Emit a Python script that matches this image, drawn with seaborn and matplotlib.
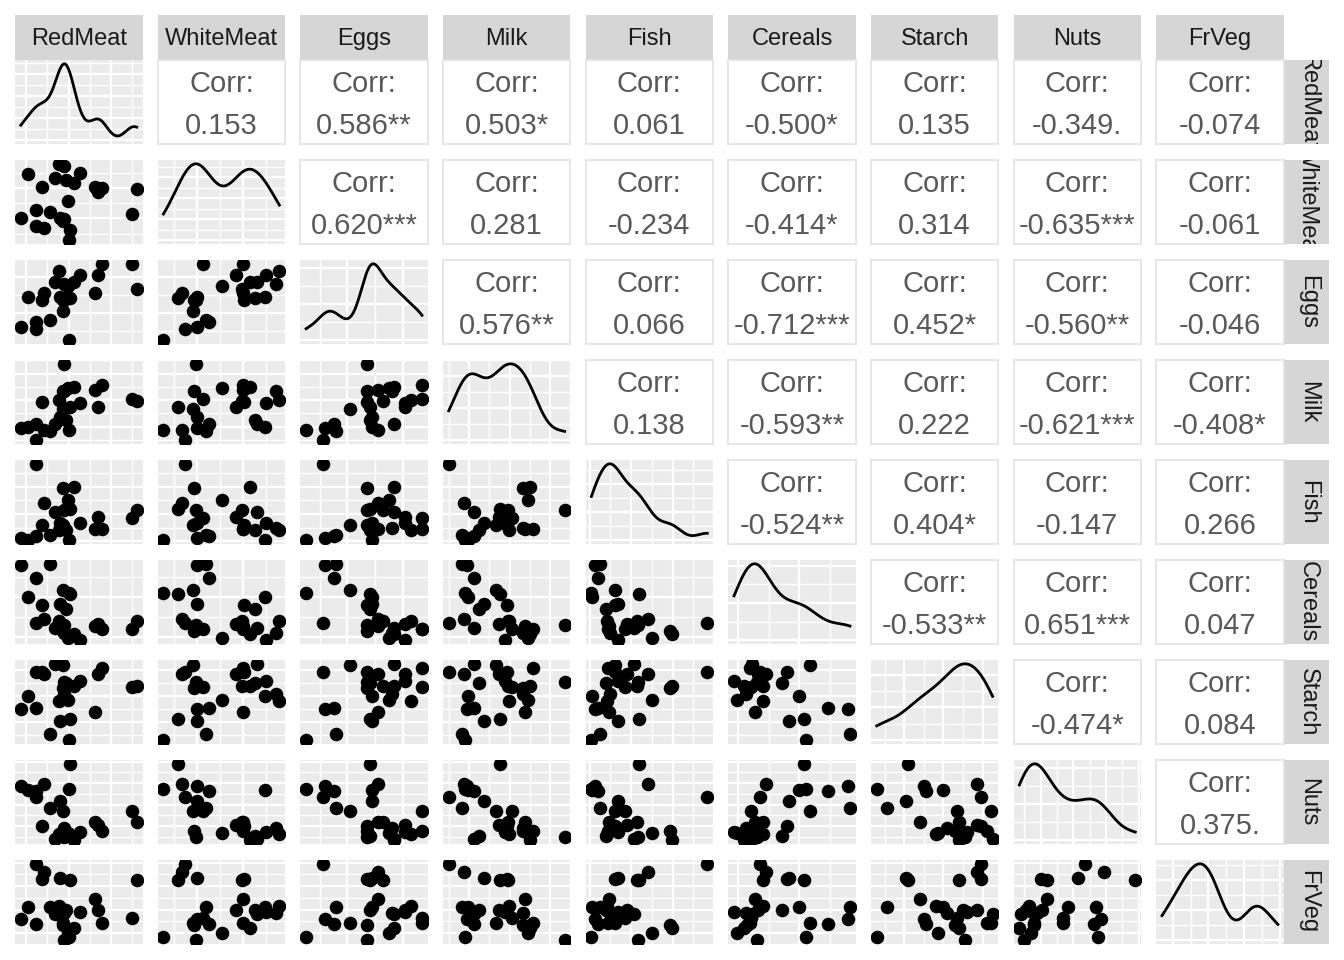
import math
import numpy as np
import pandas as pd
import matplotlib
matplotlib.use("Agg")
import matplotlib.pyplot as plt
import seaborn as sns
from matplotlib.ticker import MaxNLocator, AutoMinorLocator

# European protein consumption, 25 countries
red_meat = [10.1, 8.9, 13.5, 7.8, 9.7, 10.6, 8.4, 9.5, 18.0, 10.2, 5.3, 13.9, 9.0,
            9.5, 9.4, 6.9, 6.2, 6.2, 7.1, 9.9, 13.1, 17.4, 9.3, 11.4, 4.4]
white_meat = [1.4, 14.0, 9.3, 6.0, 11.4, 10.8, 11.6, 4.9, 9.9, 3.0, 12.4, 10.0, 5.1,
              13.6, 4.7, 10.2, 3.7, 6.3, 3.4, 7.8, 10.1, 5.7, 4.6, 12.5, 5.0]
eggs = [0.5, 4.3, 4.1, 1.6, 2.8, 3.7, 3.7, 2.7, 3.3, 2.8, 2.9, 4.7, 2.9,
        3.6, 2.7, 2.7, 1.1, 1.5, 3.1, 3.5, 3.1, 4.7, 2.1, 4.1, 1.2]
milk = [8.9, 19.9, 17.5, 8.3, 12.5, 25.0, 11.1, 33.7, 19.5, 17.6, 9.7, 25.8, 13.7,
        23.4, 23.3, 19.3, 4.9, 11.1, 8.6, 24.7, 23.8, 20.6, 16.6, 18.8, 9.5]
fish = [0.2, 2.1, 4.5, 1.2, 2.0, 9.9, 5.4, 5.8, 5.7, 5.9, 0.3, 2.2, 3.4,
        2.5, 9.7, 3.0, 14.2, 1.0, 7.0, 7.5, 2.3, 4.3, 3.0, 3.4, 0.6]
cereals = [42.3, 28.0, 26.6, 56.7, 34.3, 21.9, 24.6, 26.3, 28.1, 41.7, 40.1, 24.0, 36.8,
           22.4, 23.0, 36.1, 27.0, 49.6, 29.2, 19.5, 25.6, 24.3, 43.6, 18.6, 55.9]
starch = [0.6, 3.6, 5.7, 1.1, 5.0, 4.8, 6.5, 5.1, 4.8, 2.2, 4.0, 6.2, 2.1,
          4.2, 4.6, 5.9, 5.9, 3.1, 5.7, 3.7, 2.8, 4.7, 6.4, 5.2, 3.0]
nuts = [5.5, 1.3, 2.1, 3.7, 1.1, 0.7, 0.8, 1.0, 2.4, 7.8, 5.4, 1.6, 4.3,
        1.8, 1.6, 2.0, 4.7, 5.3, 5.9, 1.4, 2.4, 3.4, 3.4, 1.5, 5.7]
fr_veg = [1.7, 4.3, 4.0, 4.2, 4.0, 2.4, 3.6, 1.4, 6.5, 6.5, 4.2, 2.9, 6.7,
          3.7, 2.7, 6.6, 7.9, 2.8, 7.2, 2.0, 4.9, 3.3, 2.9, 3.8, 3.2]

var_names = ["RedMeat", "WhiteMeat", "Eggs", "Milk", "Fish",
             "Cereals", "Starch", "Nuts", "FrVeg"]

protein = pd.DataFrame({
    "RedMeat": red_meat, "WhiteMeat": white_meat, "Eggs": eggs, "Milk": milk,
    "Fish": fish, "Cereals": cereals, "Starch": starch, "Nuts": nuts, "FrVeg": fr_veg,
})


def p_value(r, n):
    # two sided p-value of pearson r, t distribution with n-2 df
    df = n - 2
    t = abs(r) * math.sqrt(df / (1 - r ** 2))
    x = np.linspace(t, t + 400, 400001)
    c = math.exp(math.lgamma((df + 1) / 2) - math.lgamma(df / 2)) / math.sqrt(df * math.pi)
    pdf = c * (1 + x ** 2 / df) ** (-(df + 1) / 2)
    return 2 * np.trapezoid(pdf, x)


def stars(p):
    if p < 0.001:
        return "***"
    if p < 0.01:
        return "**"
    if p < 0.05:
        return "*"
    if p < 0.1:
        return "."
    return ""


def nrd0_factor(v):
    v = np.asarray(v)
    sd = v.std(ddof=1)
    iqr = np.subtract(*np.percentile(v, [75, 25]))
    lo = min(sd, iqr / 1.34)
    return 0.9 * lo * len(v) ** -0.2 / sd


def expanded(v, mult=0.05):
    lo, hi = min(v), max(v)
    pad = (hi - lo) * mult
    return lo - pad, hi + pad


def grey_panel(ax):
    ax.set_facecolor("#EBEBEB")
    for s in ax.spines.values():
        s.set_visible(False)
    ax.xaxis.set_major_locator(MaxNLocator(nbins=4, steps=[1, 2, 2.5, 5, 10]))
    ax.yaxis.set_major_locator(MaxNLocator(nbins=4, steps=[1, 2, 2.5, 5, 10]))
    ax.xaxis.set_minor_locator(AutoMinorLocator(2))
    ax.yaxis.set_minor_locator(AutoMinorLocator(2))
    ax.grid(which="major", color="white", lw=1.6)
    ax.grid(which="minor", color="white", lw=1.0)
    ax.set_axisbelow(True)
    ax.tick_params(which="both", length=0, labelbottom=False, labelleft=False)
    ax.set_xlabel("")
    ax.set_ylabel("")


plt.rcParams["font.family"] = ["Liberation Sans", "DejaVu Sans"]

W, H = 1344, 960
fig = plt.figure(figsize=(W / 100, H / 100), dpi=100)


def px_axes(x, y, w, h):
    return fig.add_axes([x / W, 1 - (y + h) / H, w / W, h / H])


n_var = len(var_names)
col_x0, col_step, pw = 15, 142.65, 127.5
row_y0, row_step, ph = 60, 100, 84
strip_h, strip_w = 45, 45
strip_fill = "#D6D6D6"
n = len(protein)

for i, name in enumerate(var_names):
    # top strips
    sax = px_axes(col_x0 + i * col_step, row_y0 - strip_h, pw, strip_h)
    sax.set_facecolor(strip_fill)
    sax.set_xticks([])
    sax.set_yticks([])
    for s in sax.spines.values():
        s.set_visible(False)
    sax.text(0.5, 0.46, name, ha="center", va="center", fontsize=17,
             color="#1A1A1A", transform=sax.transAxes, clip_on=True)
    # right strips
    rax = px_axes(col_x0 + (n_var - 1) * col_step + pw, row_y0 + i * row_step, strip_w, ph)
    rax.set_facecolor(strip_fill)
    rax.set_xticks([])
    rax.set_yticks([])
    for s in rax.spines.values():
        s.set_visible(False)
    rax.text(0.54, 0.5, name, ha="center", va="center", fontsize=17, rotation=-90,
             color="#1A1A1A", transform=rax.transAxes, clip_on=True)

for r, yname in enumerate(var_names):
    for c, xname in enumerate(var_names):
        ax = px_axes(col_x0 + c * col_step, row_y0 + r * row_step, pw, ph)
        if r == c:
            sns.kdeplot(x=protein[xname], bw_method=nrd0_factor(protein[xname]), cut=0,
                        color="black", lw=2.0, ax=ax)
            ymax = ax.lines[0].get_ydata().max()
            ax.set_xlim(*expanded(protein[xname]))
            ax.set_ylim(-0.05 * ymax, 1.05 * ymax)
            grey_panel(ax)
        elif r > c:
            sns.scatterplot(x=protein[xname], y=protein[yname], color="black", s=95,
                            linewidth=0, ax=ax)
            ax.set_xlim(*expanded(protein[xname]))
            ax.set_ylim(*expanded(protein[yname]))
            grey_panel(ax)
        else:
            rho = np.corrcoef(protein[xname], protein[yname])[0, 1]
            label = f"{rho:.3f}{stars(p_value(rho, n))}"
            ax.set_facecolor("white")
            ax.set_xticks([])
            ax.set_yticks([])
            for s in ax.spines.values():
                s.set_color("#E3E3E3")
                s.set_linewidth(1.2)
            ax.text(0.5, 0.715, "Corr:", ha="center", va="center", fontsize=21,
                    color="#595959", transform=ax.transAxes)
            ax.text(0.5, 0.215, label, ha="center", va="center", fontsize=21,
                    color="#595959", transform=ax.transAxes)

fig.savefig("out.png", dpi=100, facecolor="white")
